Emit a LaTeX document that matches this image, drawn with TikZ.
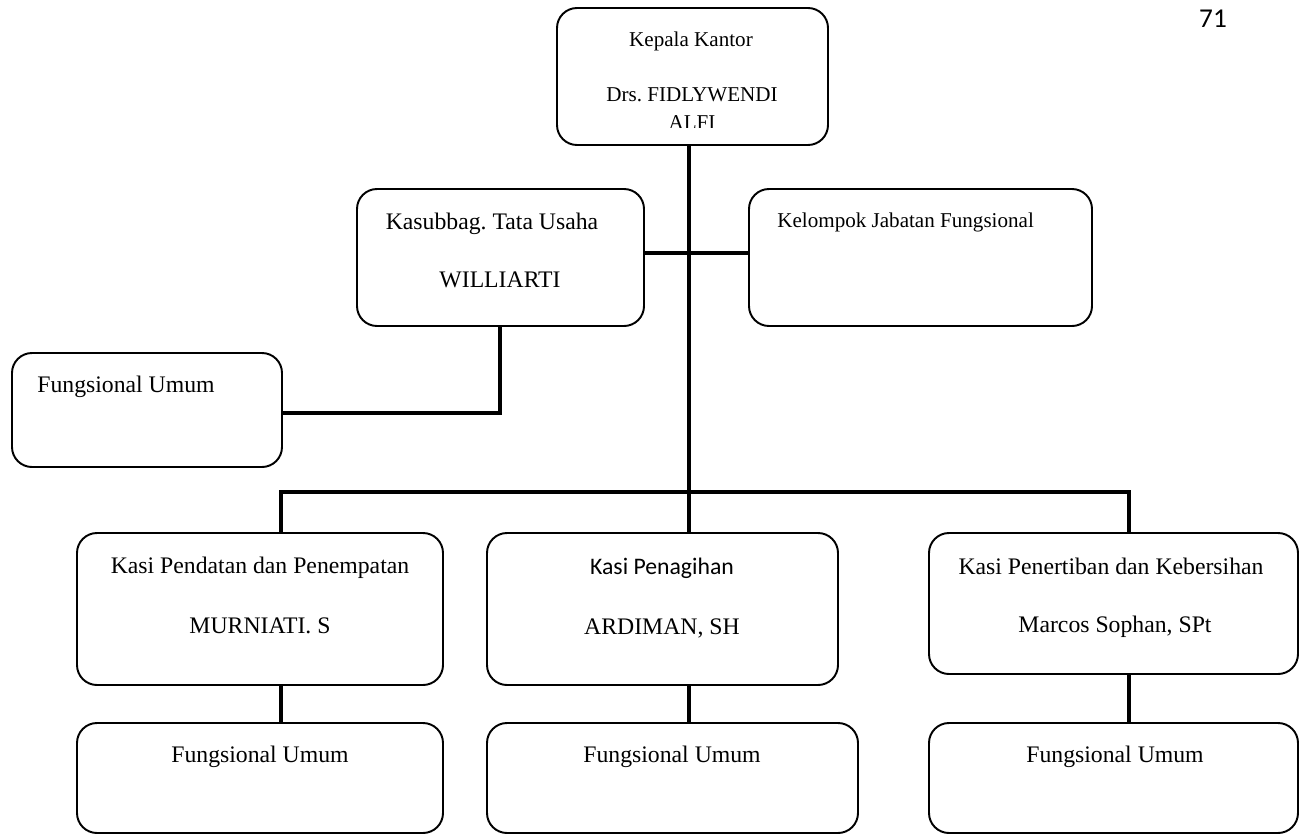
\documentclass[tikz,border=0pt]{standalone}
\usepackage{fontspec}
\setmainfont{Liberation Serif}
\newfontfamily\calibrifont{Carlito}
\usepackage{tikz}
\frenchspacing

\tikzset{
  orgbox/.style={draw, line width=1.1pt, rounded corners=0.4cm, fill=white, inner sep=0pt},
  orgline/.style={line width=2.8pt, line join=miter},
  lbl/.style={inner sep=0pt, anchor=base, font=\fontsize{13.5pt}{16pt}\selectfont},
  lblsmall/.style={inner sep=0pt, anchor=base, font=\fontsize{12pt}{14pt}\selectfont}
}

\begin{document}
\begin{tikzpicture}
\useasboundingbox (0cm,0cm) rectangle (26.06cm,-16.68cm);
\node[orgbox, minimum width=5.42cm, minimum height=2.74cm] (kepala) at (13.85cm,-1.53cm) {};
\node[orgbox, minimum width=5.74cm, minimum height=2.74cm] (tatausaha) at (10.01cm,-5.15cm) {};
\node[orgbox, minimum width=6.86cm, minimum height=2.74cm] (jabfung) at (18.41cm,-5.15cm) {};
\node[orgbox, minimum width=5.4cm, minimum height=2.28cm] (fumum0) at (2.94cm,-8.2cm) {};
\node[orgbox, minimum width=7.32cm, minimum height=3.04cm] (kasi1) at (5.2cm,-12.18cm) {};
\node[orgbox, minimum width=7.02cm, minimum height=3.04cm] (kasi2) at (13.25cm,-12.18cm) {};
\node[orgbox, minimum width=7.38cm, minimum height=2.82cm] (kasi3) at (22.27cm,-12.07cm) {};
\node[orgbox, minimum width=7.32cm, minimum height=2.2cm] (fumum1) at (5.2cm,-15.56cm) {};
\node[orgbox, minimum width=7.42cm, minimum height=2.2cm] (fumum2) at (13.45cm,-15.56cm) {};
\node[orgbox, minimum width=7.38cm, minimum height=2.2cm] (fumum3) at (22.27cm,-15.56cm) {};

\node[lblsmall] (kepalatitle) at (13.82cm,-0.92cm) {Kepala Kantor};
\node[lblsmall] (kepalaname) at (13.84cm,-2.02cm) {Drs. FIDLYWENDI};
\begin{scope}
\clip (12cm,-2.2cm) rectangle (16cm,-2.54cm);
\node[lblsmall] (kepalaname2) at (13.84cm,-2.58cm) {ALFI};
\end{scope}
\node[lbl] (tutitle) at (9.84cm,-4.58cm) {Kasubbag. Tata Usaha};
\node[lbl] (tuname) at (10cm,-5.74cm) {WILLIARTI};
\node[lblsmall, anchor=base west] (jftitle) at (15.54cm,-4.54cm) {Kelompok Jabatan Fungsional};
\node[lbl, anchor=base west] (fu0title) at (0.74cm,-7.84cm) {Fungsional Umum};
\node[lbl] (kasi1title) at (5.2cm,-11.46cm) {Kasi Pendatan dan Penempatan};
\node[lbl] (kasi1name) at (5.2cm,-12.66cm) {MURNIATI. S};
\node[lbl, font=\calibrifont\fontsize{13.5pt}{16pt}\selectfont] (kasi2title) at (13.24cm,-11.48cm) {Kasi Penagihan};
\node[lbl] (kasi2name) at (13.24cm,-12.68cm) {ARDIMAN, SH};
\node[lbl] (kasi3title) at (22.22cm,-11.48cm) {Kasi Penertiban dan Kebersihan};
\node[lbl] (kasi3name) at (22.3cm,-12.64cm) {Marcos Sophan, SPt};
\node[lbl] (fu1title) at (5.2cm,-15.24cm) {Fungsional Umum};
\node[lbl] (fu2title) at (13.44cm,-15.24cm) {Fungsional Umum};
\node[lbl] (fu3title) at (22.3cm,-15.24cm) {Fungsional Umum};
\node[inner sep=0pt, anchor=base, font=\calibrifont\fontsize{15.5pt}{18pt}\selectfont] (pagenum) at (24.26cm,-0.54cm) {71};

\coordinate (spine) at (13.78cm,-9.84cm);
\coordinate (tuj) at (13.78cm,-5.06cm);
\coordinate (tuelbow) at (10cm,-8.26cm);
\coordinate (busl) at (5.62cm,-9.84cm);
\coordinate (busr) at (22.58cm,-9.84cm);

\draw[orgline] (kepala.south -| spine) -- (spine);
\draw[orgline] (tatausaha.east |- tuj) -- (jabfung.west |- tuj);
\draw[orgline] (tatausaha.south -| tuelbow) -- (tuelbow) -- (fumum0.east |- tuelbow);
\draw[orgline] (busl |- kasi1.north) -- (busl) -- (busr) -- (busr |- kasi3.north);
\draw[orgline] (spine) -- (kasi2.north -| spine);
\draw[orgline] (kasi1.south -| busl) -- (fumum1.north -| busl);
\draw[orgline] (kasi2.south -| spine) -- (fumum2.north -| spine);
\draw[orgline] (kasi3.south -| busr) -- (fumum3.north -| busr);
\end{tikzpicture}
\end{document}
